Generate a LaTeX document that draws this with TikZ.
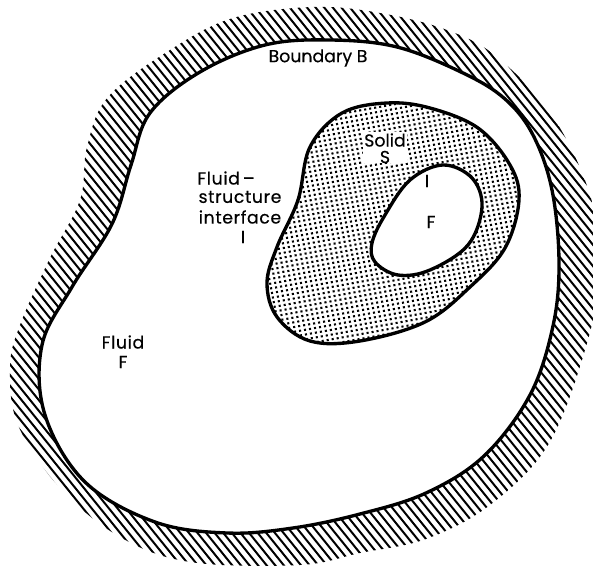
\documentclass[tikz,border=0pt]{standalone}
\usepackage{fontspec}
\setmainfont{Poppins}[FakeBold=0.35]
\tikzset{
  contour/.style={line width=2.5pt, line join=round},
  stipple/.style={line width=1.55pt, dash pattern=on 1.55pt off 2.25pt},
  lab/.style={align=center, inner sep=0pt, font=\fontsize{13}{15}\selectfont, text=black},
  wide/.style={lab, font=\fontsize{13}{15}\selectfont\addfontfeature{LetterSpace=3.5}},
}
\def\outerpts{(313,7)(233,18)(170,50)(108,97)(87,147)(80,200)(50,258)(20,325)(10,367)(18,425)(60,488)(120,537)(190,562)(300,565)(360,553)(426,539)(490,505)(548,445)(585,350)(600,270)(590,195)(553,117)(497,57)(447,30)(380,13)}
\def\innerpts{(330,40)(265,45)(200,72)(150,113)(131,165)(112,224)(72,287)(42,345)(45,415)(85,482)(155,522)(227,533)(293,528)(360,514)(426,493)(484,456)(530,395)(553,326)(559,262)(552,190)(533,135)(505,99)(463,73)(397,47)}
\def\solidpts{(387,103)(430,108)(478,128)(510,165)(519,200)(505,248)(470,287)(425,322)(360,341)(310,341)(277,317)(267,283)(277,247)(298,200)(310,147)(342,113)}
\def\holepts{(443,165)(472,178)(482,207)(468,245)(430,270)(398,275)(375,262)(372,243)(385,215)(410,180)}
\begin{document}
\begin{tikzpicture}[x=0.75pt,y=-0.75pt]
\useasboundingbox (0,0) rectangle (593,566);
\fill[white] (0,0) rectangle (593,566);
% hatched wall
\begin{scope}
  \clip plot[smooth cycle,tension=0.6] coordinates {\outerpts};
  \foreach \k in {-40,...,130}{
    \draw[line width=1.5pt] ({\k*8.6-300},-20) -- ({\k*8.6-300+500},{-20+620});
  }
\end{scope}
\fill[white] plot[smooth cycle,tension=0.6] coordinates {\innerpts};
\draw[contour] plot[smooth cycle,tension=0.6] coordinates {\innerpts};
% solid
\begin{scope}
  \clip plot[smooth cycle,tension=0.6] coordinates {\solidpts};
  \foreach \j in {0,...,75}{
    \draw[stipple] ({230+\j*0.9},{60+\j*4.6+50}) -- ({230+\j*0.9+400},{60+\j*4.6+50-72});
  }
\end{scope}
\fill[white] (363,132) rectangle (407,163);
\draw[contour] plot[smooth cycle,tension=0.6] coordinates {\solidpts};
\fill[white,draw=black,contour] plot[smooth cycle,tension=0.6] coordinates {\holepts};
% labels
\node[lab] (bnd) at (318,58) {Boundary B};
\node[lab] (sol) at (385,140) {Solid};
\node[lab] (s) at (385,157) {S};
\node[lab] (ii) at (427,181) {I};
\node[lab] (fi) at (431,222) {F};
\node[wide] (fsi1) at (226,178) {Fluid\,–};
\node[wide] (fsi2) at (240,197) {structure};
\node[wide] (fsi3) at (240,217) {interface};
\node[lab] (fsi4) at (243,237) {I};
\node[wide] (fl) at (123,342) {Fluid};
\node[lab] (ff) at (123,362) {F};
\end{tikzpicture}
\end{document}
